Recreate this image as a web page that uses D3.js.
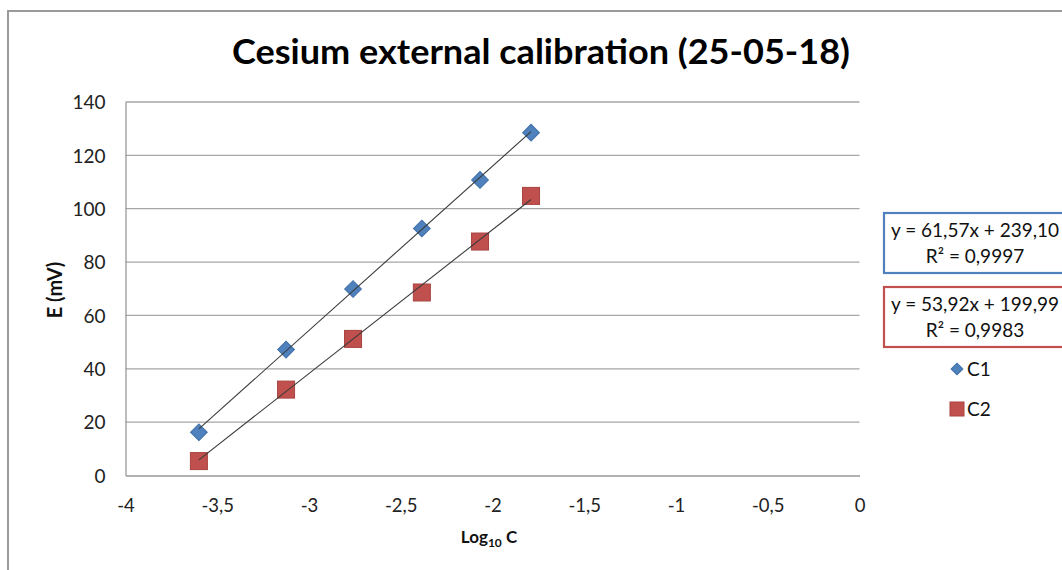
<!DOCTYPE html>
<html><head><meta charset="utf-8">
<script src="https://d3js.org/d3.v7.min.js"></script>
<style>body{margin:0;background:#fff}svg{display:block}text{font-family:Lato,"Open Sans",sans-serif}</style>
</head><body>
<script>
// ---- data ----
const logC = [-3.6, -3.125, -2.76, -2.385, -2.068, -1.79];
const c1 = [16.2, 47.2, 69.9, 92.6, 110.8, 128.5];
const c2 = [5.4, 32.2, 51.2, 68.6, 87.7, 104.8];
const seriesNames = ["C1", "C2"];
const slopes = [61.57, 53.92];
const intercepts = [239.10, 199.99];
const eqLabels = ["y = 61,57x + 239,10", "y = 53,92x + 199,99"];
const r2Labels = ["R² = 0,9997", "R² = 0,9983"];
const xTicks = [-4, -3.5, -3, -2.5, -2, -1.5, -1, -0.5, 0];
const yTicks = [0, 20, 40, 60, 80, 100, 120, 140];
const title = "Cesium external calibration (25-05-18)";

const W = 1062, H = 570;
const svg = d3.select("body").append("svg").attr("width", W).attr("height", H);
// chart frame
svg.append("rect").attr("x", 8).attr("y", 11).attr("width", 1100).attr("height", 600)
  .attr("fill", "#fff").attr("stroke", "#9a9a9a").attr("stroke-width", 2);

const x = d3.scaleLinear().domain([-4, 0]).range([125.5, 859.5]);
const y = d3.scaleLinear().domain([0, 140]).range([475.5, 102]);

// gridlines
svg.append("g").selectAll("line").data(yTicks.slice(1)).join("line")
  .attr("x1", x(-4)).attr("x2", x(0)).attr("y1", d => y(d)).attr("y2", d => y(d))
  .attr("stroke", "#a6a6a6").attr("stroke-width", 1.3);

const fmt = d => String(d).replace(".", ",");
// axes
const xAxis = svg.append("g").attr("transform", `translate(0,${y(0)})`)
  .call(d3.axisBottom(x).tickValues(xTicks).tickSize(0).tickPadding(0).tickFormat(fmt));
xAxis.select(".domain").attr("stroke", "#999").attr("stroke-width", 1.3);
xAxis.selectAll("text").attr("font-size", 18.5).attr("fill", "#222").attr("dy", 0).attr("y", 36);
const yAxis = svg.append("g").attr("transform", `translate(${x(-4)},0)`)
  .call(d3.axisLeft(y).tickValues(yTicks).tickSize(0).tickPadding(0).tickFormat(fmt));
yAxis.select(".domain").attr("stroke", "#999").attr("stroke-width", 1.3);
yAxis.selectAll("text").attr("font-size", 19).attr("fill", "#222").attr("x", -20).attr("dy", "0.35em");

// title
svg.append("text").attr("x", 541).attr("y", 64).attr("text-anchor", "middle")
  .attr("font-size", 34).attr("font-weight", 700).attr("fill", "#000")
  .attr("textLength", 618).attr("lengthAdjust", "spacingAndGlyphs").text(title);

// axis titles
svg.append("text").attr("transform", "translate(62,290) rotate(-90)").attr("text-anchor", "middle")
  .attr("font-size", 20).attr("font-weight", 700).attr("fill", "#111").text("E (mV)");
const xt = svg.append("text").attr("x", 489).attr("y", 543).attr("text-anchor", "middle")
  .attr("font-size", 17).attr("font-weight", 700).attr("fill", "#111");
xt.append("tspan").text("Log");
xt.append("tspan").attr("font-size", 12).attr("dy", 4).text("10");
xt.append("tspan").attr("dy", -4).text(" C");

// trendlines
const colors = ["#4F81BD", "#C0504D"];
const strokes = ["#3f6fa8", "#a8433f"];
const xmin = d3.min(logC), xmax = d3.max(logC);
function trend(i) {
  svg.append("line")
    .attr("x1", x(xmin)).attr("y1", y(slopes[i] * xmin + intercepts[i]))
    .attr("x2", x(xmax)).attr("y2", y(slopes[i] * xmax + intercepts[i]))
    .attr("stroke", "#3a3a3a").attr("stroke-width", 1.1);
}

// markers
const pts1 = logC.map((v, i) => [v, c1[i]]);
const pts2 = logC.map((v, i) => [v, c2[i]]);
svg.append("g").selectAll("path").data(pts1).join("path")
  .attr("d", d3.symbol().type(d3.symbolSquare).size(140)())
  .attr("transform", d => `translate(${x(d[0])},${y(d[1])}) rotate(45)`)
  .attr("fill", colors[0]).attr("stroke", strokes[0]).attr("stroke-width", 1);
svg.append("g").selectAll("rect").data(pts2).join("rect")
  .attr("x", d => x(d[0]) - 8.5).attr("y", d => y(d[1]) - 8.5)
  .attr("width", 17).attr("height", 17)
  .attr("fill", colors[1]).attr("stroke", strokes[1]).attr("stroke-width", 1);
trend(0); trend(1);

// equation boxes
const boxTop = [213, 287];
[0, 1].forEach(i => {
  svg.append("rect").attr("x", 884).attr("y", boxTop[i]).attr("width", 200).attr("height", 60)
    .attr("fill", "#fff").attr("stroke", colors[i]).attr("stroke-width", 2.2);
  svg.append("text").attr("x", 975).attr("y", boxTop[i] + 24).attr("text-anchor", "middle")
    .attr("font-size", 19).attr("fill", "#111").text(eqLabels[i]);
  svg.append("text").attr("x", 975).attr("y", boxTop[i] + 50).attr("text-anchor", "middle")
    .attr("font-size", 19).attr("fill", "#111").text(r2Labels[i]);
});

// legend
const legY = [369, 409];
svg.append("path").attr("d", d3.symbol().type(d3.symbolSquare).size(70)())
  .attr("transform", `translate(957,${legY[0]}) rotate(45)`).attr("fill", colors[0]).attr("stroke", strokes[0]);
svg.append("rect").attr("x", 950).attr("y", legY[1] - 7).attr("width", 14).attr("height", 14)
  .attr("fill", colors[1]).attr("stroke", strokes[1]);
seriesNames.forEach((n, i) => {
  svg.append("text").attr("x", 967).attr("y", legY[i] + 7).attr("font-size", 19).attr("fill", "#111").text(n);
});
</script>
</body></html>
